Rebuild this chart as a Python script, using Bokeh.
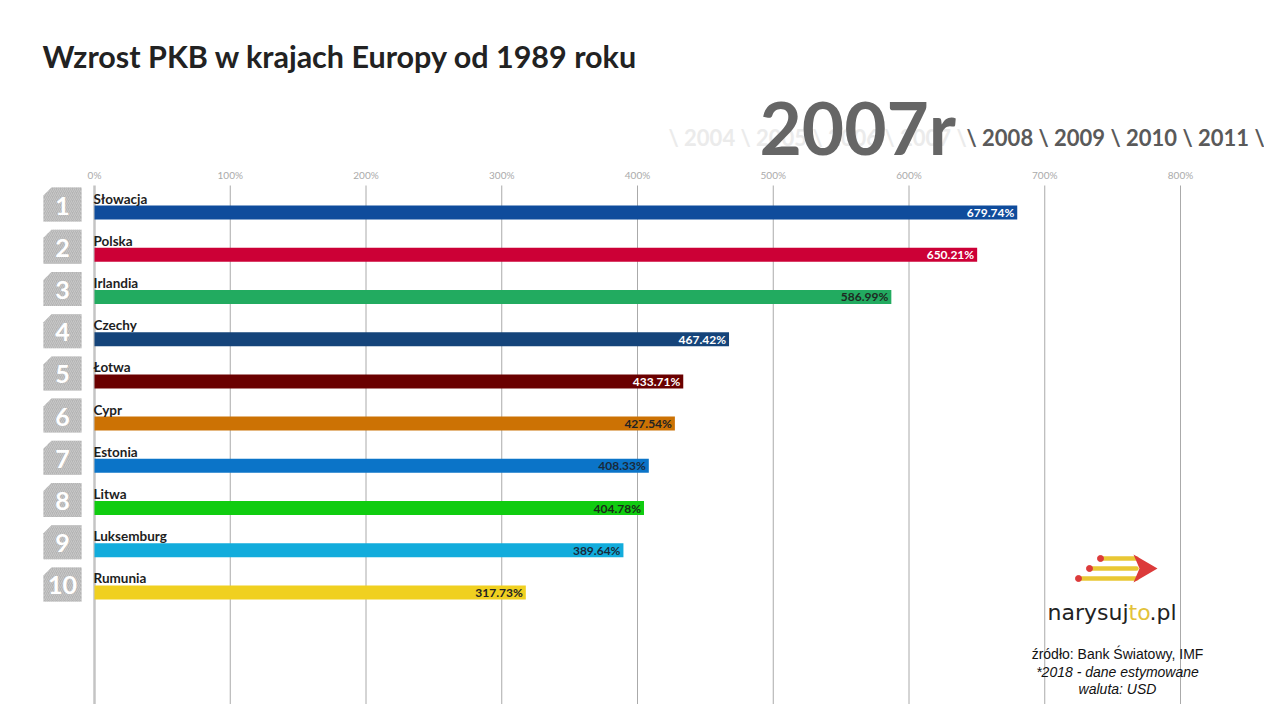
from bokeh.plotting import figure
from bokeh.models import Range1d, ColumnDataSource
from bokeh.embed import file_html
from bokeh.resources import INLINE
from bokeh.core.properties import value

# ---------------- data ----------------
countries = ["Słowacja", "Polska", "Irlandia", "Czechy", "Łotwa",
             "Cypr", "Estonia", "Litwa", "Luksemburg", "Rumunia"]
growth = [679.74, 650.21, 586.99, 467.42, 433.71,
          427.54, 408.33, 404.78, 389.64, 317.73]
ranks = [1, 2, 3, 4, 5, 6, 7, 8, 9, 10]
tick_values = [0, 100, 200, 300, 400, 500, 600, 700, 800]
tick_labels = ["0%", "100%", "200%", "300%", "400%", "500%", "600%", "700%", "800%"]
current_year = 2007
past_years = [2004, 2005, 2006, 2007]
next_years = [2008, 2009, 2010, 2011]
title_text = "Wzrost PKB w krajach Europy od 1989 roku"
source_lines = ["źródło: Bank Światowy, IMF", "*2018 - dane estymowane", "waluta: USD"]

# ---------------- styles ----------------
bar_colors = ["#0f4c9c", "#cc0036", "#22ab60", "#15447a", "#6a0000",
              "#cc7204", "#0b74c8", "#10cc10", "#12acdc", "#f0d020"]
value_colors = ["white", "white", "#1e2a22", "white", "white",
                "#222222", "#1a2a3a", "#1a2a1a", "#1a2a3a", "#222222"]

W, H = 1264, 704
OFF = 0            # page offset of the canvas
X0 = 94.0 - OFF    # canvas px of 0%
SX = 1.3575        # px per 1%
Y1 = 212.0 - OFF   # canvas px of rank 1 centre
SY = 42.22         # px per rank

p = figure(width=W, height=H, output_backend="svg", toolbar_location=None,
           x_axis_location=None, y_axis_location=None, min_border=0,
           x_range=Range1d(-X0 / SX, (W - X0) / SX),
           y_range=Range1d(1 + (H - Y1) / SY, 1 - Y1 / SY))
p.grid.visible = False
p.outline_line_color = None
p.background_fill_color = "white"
p.border_fill_color = "white"


def px(xpage):
    return (xpage - OFF - X0) / SX


def py(ypage):
    return 1 + (ypage - OFF - Y1) / SY


MID = "middle"

# grid lines
p.segment(x0=tick_values[1:], x1=tick_values[1:], y0=py(185), y1=py(740),
          line_color="#aaaaaa", line_width=1)
p.segment(x0=[tick_values[0]], x1=[tick_values[0]], y0=py(185), y1=py(740),
          line_color="#c4c4c4", line_width=2.5)
p.text(x=tick_values, y=[py(174)] * len(tick_values), text=tick_labels,
       text_font=value("Lato"), text_font_size="10px", text_color="#aaaaaa",
       text_align="center", text_baseline=MID)

# bars
src = ColumnDataSource(dict(
    country=countries, growth=growth, rank=ranks, color=bar_colors,
    vcolor=value_colors,
    vlabel=[f"{v:.2f}%" for v in growth],
    vx=[v - 3 / SX for v in growth],
    ly=[r - 14 / SY for r in ranks],
    lx=[px(93)] * len(ranks),
))
p.hbar(y="rank", left=0, right="growth", height=14 / SY, fill_color="color",
       line_color=None, source=src)
p.text(x="vx", y="rank", text="vlabel", text_color="vcolor", source=src,
       text_font=value("Lato"), text_font_style="bold", text_font_size="12px",
       text_align="right", text_baseline=MID)
p.text(x="lx", y="ly", text="country", source=src, text_color="#1e1e1e",
       text_font=value("Lato"), text_font_style="bold", text_font_size="13.5px",
       text_align="left", text_baseline=MID)

# rank badges (cut top-left corner, hatched grey)
bxs, bys, bcx, bcy = [], [], [], []
for r in ranks:
    cy = 212 + SY * (r - 1) - 8
    top, bot = cy - 17, cy + 17
    l, rr = 43, 81
    bxs.append([px(l), px(l + 8), px(rr), px(rr), px(l)])
    bys.append([py(top + 8), py(top), py(top), py(bot), py(bot)])
    bcx.append(px(62))
    bcy.append(py(cy + 1))
p.patches(xs=bxs, ys=bys, fill_color="#b4b4b4", line_color=None,
          hatch_pattern="/", hatch_color="#c8c8c8", hatch_scale=4, hatch_weight=1)
p.text(x=bcx, y=bcy, text=[str(r) for r in ranks], text_color="white",
       text_font=value("Lato"), text_font_style="bold", text_font_size="25px",
       text_align="center", text_baseline=MID)

# title
p.text(x=[px(42)], y=[py(55)], text=[title_text], text_color="#222222",
       text_font=value("Lato"), text_font_style="bold", text_font_size="30.5px",
       text_align="left", text_baseline=MID)

# year ticker
past = " ".join(f"\\ {y}" for y in past_years) + " \\"
nxt = " ".join(f"\\ {y}" for y in next_years) + " \\"
p.text(x=[px(668)], y=[py(137)], text=[past], text_color="#ebebeb",
       text_font=value("Lato"), text_font_style="bold", text_font_size="22px",
       text_align="left", text_baseline=MID)
p.text(x=[px(966)], y=[py(137)], text=[nxt], text_color="#5a5a5a",
       text_font=value("Lato"), text_font_style="bold", text_font_size="22px",
       text_align="left", text_baseline=MID)
p.text(x=[px(759)], y=[py(126)], text=[f"{current_year}r"], text_color="#666666",
       text_font=value("Lato"), text_font_style="bold", text_font_size="73px",
       text_align="left", text_baseline=MID)

# logo
yellow, red = "#e9c734", "#dc3a3a"
p.segment(x0=[px(1100), px(1089), px(1078)], x1=[px(1136)] * 3,
          y0=[py(558), py(568), py(578)], y1=[py(558), py(568), py(578)],
          line_color=yellow, line_width=4.5, line_cap="round")
p.scatter(x=[px(1100), px(1089), px(1078)], y=[py(558), py(568), py(578)],
          size=6, color=red, marker="circle")
p.patch(x=[px(1133), px(1157), px(1133), px(1139)],
        y=[py(554), py(568), py(582), py(568)], fill_color=red, line_color=None)
logo_font = value("DejaVu Sans")
for txt, xx, col in [("narysuj", 1047, "#222222"), ("to", 1128, "#e3c23a"),
                     (".pl", 1149, "#222222")]:
    p.text(x=[px(xx)], y=[py(612)], text=[txt], text_color=col,
           text_font=logo_font, text_font_size="22px",
           text_align="left", text_baseline=MID)

# source
for i, (line, yy) in enumerate(zip(source_lines, [653, 671, 688])):
    p.text(x=[px(1117)], y=[py(yy)], text=[line], text_color="#111111",
           text_font=value("Liberation Sans"), text_font_size="14px",
           text_font_style="normal" if i == 0 else "italic",
           text_align="center", text_baseline=MID)

open("out.html", "w").write(file_html(p, INLINE))
